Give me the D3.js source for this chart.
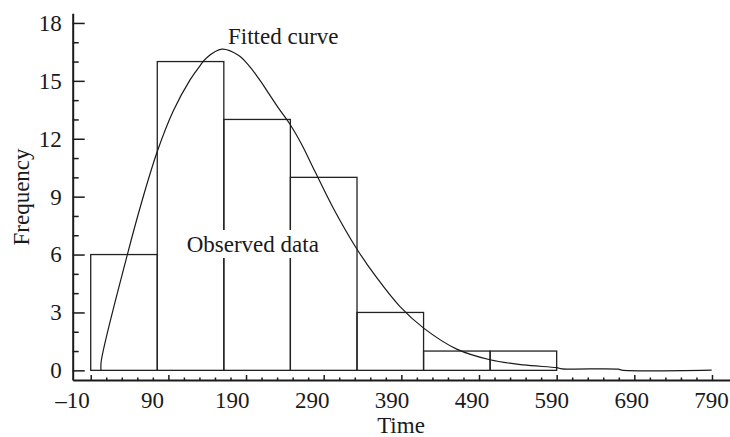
<!DOCTYPE html>
<html lang="en">
<head>
<meta charset="utf-8">
<script src="https://cdn.jsdelivr.net/npm/d3@7"></script>
<style type="text/css">
body {
	margin: 0;
	background: #fff;
}
text {
	font-family: "Liberation Serif", "DejaVu Serif", serif;
	fill: #1a1a1a;
}
</style>
</head>
<body>
<script type="text/javascript">

// histogram bins (edges) and observed counts
var binEdges = [-10, 75.7, 161.4, 247.1, 332.9, 418.6, 504.3, 590];
var observed = [6, 16, 13, 10, 3, 1, 1];

// fitted curve
var curveTime = [3.3, 3.5, 37.1, 55.2, 75.8, 96.4, 117.9, 130.7, 139.4, 158.7, 180.1, 192.9, 205.8, 218.7,
	231.6, 246.6, 261.7, 278.8, 302.4, 332.5, 358.3, 388.3, 418.3, 461.3, 504.2, 547.0, 590.0, 597.0, 669.4, 673.8, 789.6];
var curveFreq = [0, 0.46, 5.98, 8.66, 11.35, 13.45, 15.05, 15.78, 16.2, 16.64, 16.33, 15.83, 15.15, 14.38,
	13.6, 12.75, 11.7, 10.3, 8.4, 6.3, 4.8, 3.3, 2.2, 1.1, 0.55, 0.28, 0.14, 0.08, 0.06, 0.01, 0.01];

var xTicks = [-10, 90, 190, 290, 390, 490, 590, 690, 790];
var yTicks = [0, 3, 6, 9, 12, 15, 18];

var width = 730;
var height = 437;

var x = d3.scaleLinear().domain([-33.2, 813.2]).range([72.7, 730]);
// the tick labels in the original sit slightly off their ticks
var xLabel = d3.scaleLinear().domain([-10, 790]).range([72, 711]);
var y = d3.scaleLinear().domain([-0.5, 18.5]).range([380, 13.3]);

var svg = d3.select("body")
			.append("svg")
			.attr("width", width)
			.attr("height", height);

// bars
svg.selectAll("rect.bar")
	.data(observed)
	.enter()
	.append("rect")
	.attr("class", "bar")
	.attr("x", function(d, i) { return x(binEdges[i]); })
	.attr("width", function(d, i) { return x(binEdges[i + 1]) - x(binEdges[i]); })
	.attr("y", function(d) { return y(d); })
	.attr("height", function(d) { return y(0) - y(d); })
	.style("fill", "none")
	.style("stroke", "#222")
	.style("stroke-width", 1.3);

// fitted curve
var line = d3.line()
	.x(function(d) { return x(d); })
	.y(function(d, i) { return y(curveFreq[i]); })
	.curve(d3.curveCatmullRom.alpha(0.5));

svg.append("path")
	.attr("d", line(curveTime))
	.style("fill", "none")
	.style("stroke", "#1a1a1a")
	.style("stroke-width", 1.2);

// y axis
var yMinor = d3.range(0, 19).filter(function(v) { return v % 3 != 0; });

svg.append("g")
	.attr("transform", "translate(72.7,0)")
	.call(d3.axisLeft(y).tickValues(yMinor).tickSize(-6).tickFormat(""))
	.call(function(g) { g.select(".domain").remove(); });

var yAxis = svg.append("g")
	.attr("transform", "translate(72.7,0)")
	.call(d3.axisLeft(y).tickValues(yTicks).tickSizeInner(-12).tickSizeOuter(0).tickPadding(11));

// x axis
var xMinor = d3.range(-10, 791, 20).filter(function(v) { return (v + 10) % 100 != 0; });

svg.append("g")
	.attr("transform", "translate(0,380)")
	.call(d3.axisBottom(x).tickValues(xMinor).tickSize(-2.5).tickFormat(""))
	.call(function(g) { g.select(".domain").remove(); });

var xAxis = svg.append("g")
	.attr("transform", "translate(0,380)")
	.call(d3.axisBottom(x).tickValues(xTicks).tickSizeInner(-5).tickSizeOuter(0).tickFormat(""));

svg.append("g")
	.attr("transform", "translate(0,380)")
	.call(d3.axisBottom(xLabel).tickValues(xTicks).tickSize(0).tickPadding(12)
		.tickFormat(function(d) { return d < 0 ? "\u2013" + Math.abs(d) : d; }))
	.call(function(g) { g.select(".domain").remove(); });

svg.selectAll(".tick line").style("stroke", "#1a1a1a").style("stroke-width", 1.5);
svg.selectAll(".domain").style("stroke", "#1a1a1a").style("stroke-width", 2);
svg.selectAll(".tick text").style("font-size", "23px").style("font-family", "Liberation Serif, serif").style("fill", "#1a1a1a");

// axis titles
svg.append("text")
	.attr("x", 401)
	.attr("y", 433)
	.attr("text-anchor", "middle")
	.style("font-size", "23px")
	.text("Time");

svg.append("text")
	.attr("transform", "translate(29,197) rotate(-90)")
	.attr("text-anchor", "middle")
	.style("font-size", "23px")
	.text("Frequency");

// annotations
svg.append("text")
	.attr("x", 228)
	.attr("y", 44)
	.style("font-size", "23px")
	.text("Fitted curve");

var obsBg = svg.append("rect").style("fill", "#fff");
var obs = svg.append("text")
	.attr("x", 186.7)
	.attr("y", 252)
	.style("font-size", "23px")
	.text("Observed data");
var bb = obs.node().getBBox();
obsBg.attr("x", bb.x - 3).attr("y", bb.y - 2).attr("width", bb.width + 6).attr("height", bb.height + 3);

</script>
</body>
</html>
